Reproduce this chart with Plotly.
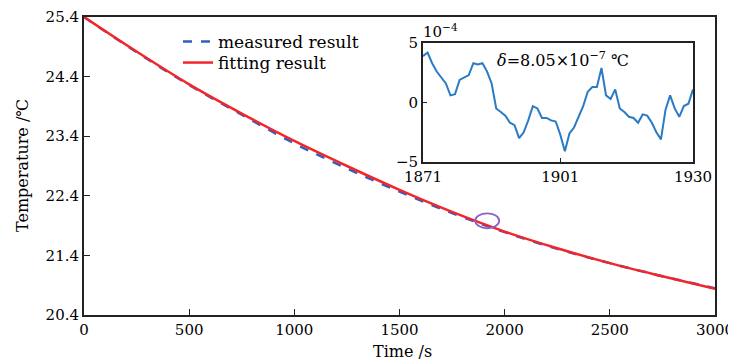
import plotly.graph_objects as go

# ---- data ----
time_s = [0, 250, 500, 750, 1000, 1250, 1500, 1750, 2000, 2250, 2500, 2750, 3000]
fit_temp = [25.40, 24.82, 24.27, 23.78, 23.32, 22.90, 22.50, 22.13, 21.80, 21.52, 21.27, 21.05, 20.84]
meas_temp = [25.40, 24.81, 24.26, 23.76, 23.28, 22.86, 22.47, 22.11, 21.79, 21.51, 21.27, 21.05, 20.85]

inset_t = list(range(1871, 1931))
inset_resid = [3.9, 4.2, 3.3, 2.6, 2.1, 1.6, 0.6, 0.7, 1.9, 2.1,
               2.3, 3.3, 3.2, 3.3, 2.6, 1.6, -0.5, -0.8, -1.1, -1.7,
               -1.9, -3.0, -2.5, -1.5, -0.3, -0.5, -1.3, -1.3, -1.5, -1.6,
               -2.7, -4.1, -2.6, -2.1, -1.2, -0.3, 0.9, 1.3, 1.3, 2.9,
               0.6, 0.3, 1.1, -0.5, -0.8, -1.2, -1.3, -1.7, -1.0, -1.1,
               -1.7, -2.5, -3.1, -0.6, 0.6, -0.5, -1.2, -0.3, -0.1, 1.1]

main_xticks = [0, 500, 1000, 1500, 2000, 2500, 3000]
main_yticks = [20.4, 21.4, 22.4, 23.4, 24.4, 25.4]
inset_xticks = [1871, 1901, 1930]
inset_yticks = [-5, 0, 5]
inset_yticktext = ["\u22125", "0", "5"]

FONT = "DejaVu Serif"
AX = "#222222"
TICK = dict(family=FONT, size=15, color="black")

# page coordinates of the main plot area (the page body adds an 8px offset)
PL, PR, PT, PB = 84, 715, 17, 315
PW, PH = PR - PL, PB - PT


def px(x):
    return (x - PL) / PW


def py(y):
    return (PB - y) / PH


fig = go.Figure()
fig.add_trace(go.Scatter(x=time_s, y=meas_temp, mode="lines", name="measured result", legend="legend",
                         line=dict(color="#2f5fc4", width=2.5, dash="dash", shape="spline")))
fig.add_trace(go.Scatter(x=time_s, y=fit_temp, mode="lines", name="fitting result", legend="legend2",
                         line=dict(color="#f2262a", width=2.5, shape="spline")))
fig.add_trace(go.Scatter(x=inset_t, y=inset_resid, mode="lines", xaxis="x2", yaxis="y2",
                         showlegend=False, line=dict(color="#2a7bc4", width=2)))

fig.add_shape(type="circle", xref="x", yref="y", x0=1860, x1=1974, y0=21.855, y1=22.105,
              line=dict(color="#8a62c8", width=1.8))

leg_common = dict(xanchor="left", yanchor="middle", bgcolor="rgba(0,0,0,0)",
                  font=dict(family=FONT, size=17, color="black"), itemwidth=30)

W, H = 728, 356
fig.update_layout(
    width=W, height=H,
    margin=dict(l=PL - 8, r=W + 8 - PR, t=PT - 8, b=H + 8 - PB, pad=0),
    paper_bgcolor="white", plot_bgcolor="white",
    font=dict(family=FONT, size=16, color="black"),
    showlegend=True,
    legend=dict(x=px(178), y=py(42), **leg_common),
    legend2=dict(x=px(178), y=py(63), **leg_common),
    xaxis=dict(domain=[0, 1], range=[0, 3000], tickvals=main_xticks, ticks="inside", ticklen=6,
               tickcolor=AX, showline=True, linecolor=AX, linewidth=2, mirror=True,
               showgrid=False, zeroline=False, automargin=False, tickfont=TICK),
    yaxis=dict(domain=[0, 1], range=[20.4, 25.4], tickvals=main_yticks,
               ticktext=[f"{v:.1f}" for v in main_yticks],
               ticks="inside", ticklen=6, tickcolor=AX, showline=True, linecolor=AX, linewidth=2,
               mirror=True, showgrid=False, zeroline=False, automargin=False, tickfont=TICK),
    xaxis2=dict(domain=[px(423), px(693)], anchor="y2", range=[1871, 1930], tickvals=inset_xticks,
                ticks="inside", ticklen=4, tickcolor=AX, showline=True, linecolor=AX, linewidth=2,
                mirror=True, showgrid=False, zeroline=False, automargin=False, tickfont=TICK),
    yaxis2=dict(domain=[py(162), py(43)], anchor="x2", range=[-5, 5], tickvals=inset_yticks,
                ticktext=inset_yticktext, ticks="inside", ticklen=4, tickcolor=AX, showline=True,
                linecolor=AX, linewidth=2, mirror=True, showgrid=False, zeroline=False,
                automargin=False, tickfont=TICK),
    annotations=[
        dict(text="Time /s", xref="paper", yref="paper", x=px(402), y=py(351),
             xanchor="center", yanchor="middle", showarrow=False, font=dict(size=16)),
        dict(text="Temperature /\u2103", xref="paper", yref="paper", x=px(22), y=0.5,
             xanchor="center", yanchor="middle", textangle=-90, showarrow=False, font=dict(size=16)),
        dict(text="10<sup>\u22124</sup>", xref="paper", yref="paper", x=px(421), y=py(31),
             xanchor="left", yanchor="middle", showarrow=False, font=dict(size=15)),
        dict(text="<i>\u03b4</i>=8.05\u00d710<sup>\u22127</sup> \u2103", xref="paper", yref="paper",
             x=px(563), y=py(60), xanchor="center", yanchor="middle",
             showarrow=False, font=dict(size=16)),
    ],
)

fig.write_html("out.html")
